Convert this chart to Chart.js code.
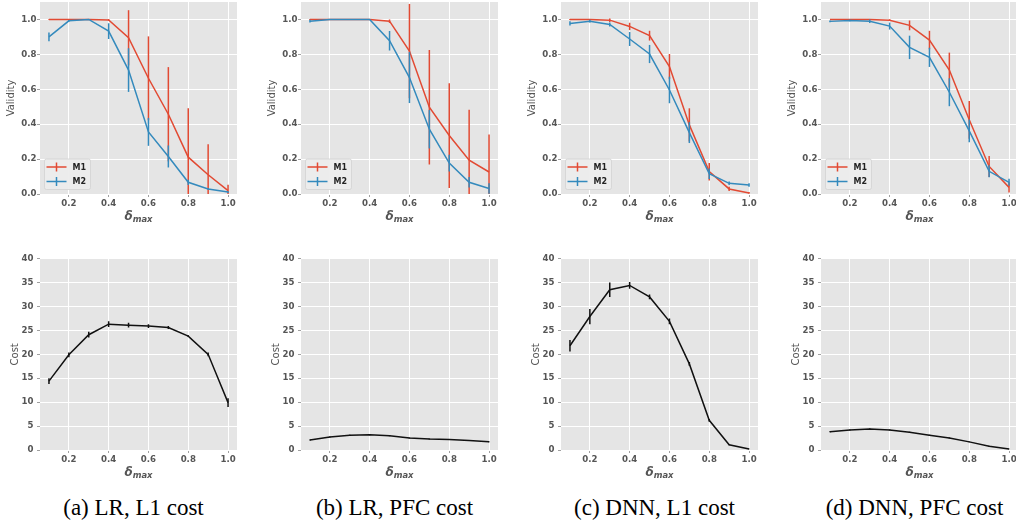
<!DOCTYPE html>
<html>
<head>
<meta charset="utf-8">
<script src="https://cdn.jsdelivr.net/npm/chart.js@4"></script>
<style>
  html, body { margin: 0; padding: 0; background: #fff; }
  body { position: relative; width: 1016px; height: 523px; overflow: hidden; }
  canvas { position: absolute; }
  .cap { position: absolute; width: 300px; text-align: center; font-family: "Liberation Serif", serif;
         font-size: 23px; line-height: 23px; color: #000; white-space: nowrap; }
</style>
</head>
<body>
<script>
// δ_max values shared by all panels
const deltaMax = [0.1, 0.2, 0.3, 0.4, 0.5, 0.6, 0.7, 0.8, 0.9, 1.0];
const deltaTicks = [0.2, 0.4, 0.6, 0.8, 1.0];
const validityTicks = [0.0, 0.2, 0.4, 0.6, 0.8, 1.0];
const costTicks = [0, 5, 10, 15, 20, 25, 30, 35, 40];
const methodNames = ['M1', 'M2'];
const captions = ['(a) LR, L1 cost', '(b) LR, PFC cost', '(c) DNN, L1 cost', '(d) DNN, PFC cost'];

// (a) LR, L1 cost
const lrL1ValidityM1    = [1.0, 1.0, 1.0, 0.997, 0.895, 0.663, 0.457, 0.211, 0.11, 0.019];
const lrL1ValidityM1Err = [0.002, 0.0, 0.0, 0.005, 0.158, 0.24, 0.27, 0.28, 0.175, 0.034];
const lrL1ValidityM2    = [0.9, 0.992, 1.0, 0.933, 0.71, 0.356, 0.215, 0.067, 0.029, 0.011];
const lrL1ValidityM2Err = [0.025, 0.005, 0.003, 0.045, 0.125, 0.08, 0.063, 0.015, 0.005, 0.005];
const lrL1Cost          = [14.4, 19.9, 24.1, 26.3, 26.1, 25.9, 25.6, 23.8, 20.0, 9.9];
const lrL1CostErr       = [0.6, 0.5, 0.6, 0.6, 0.5, 0.4, 0.3, 0.2, 0.4, 0.9];

// (b) LR, PFC cost
const lrPfcValidityM1    = [1.0, 1.0, 1.0, 1.0, 0.99, 0.819, 0.497, 0.335, 0.194, 0.126];
const lrPfcValidityM1Err = [0.003, 0.0, 0.0, 0.0, 0.01, 0.27, 0.328, 0.3, 0.288, 0.215];
const lrPfcValidityM2    = [0.99, 1.0, 1.0, 1.0, 0.878, 0.667, 0.371, 0.177, 0.067, 0.032];
const lrPfcValidityM2Err = [0.008, 0.0, 0.0, 0.0, 0.056, 0.146, 0.11, 0.048, 0.03, 0.03];
const lrPfcCost          = [2.1, 2.7, 3.1, 3.2, 3.0, 2.5, 2.3, 2.2, 2.0, 1.7];
const lrPfcCostErr       = [0.1, 0.1, 0.1, 0.1, 0.1, 0.1, 0.1, 0.1, 0.1, 0.1];

// (c) DNN, L1 cost
const dnnL1ValidityM1    = [1.0, 1.0, 0.996, 0.96, 0.907, 0.73, 0.396, 0.128, 0.029, 0.006];
const dnnL1ValidityM1Err = [0.003, 0.003, 0.01, 0.021, 0.028, 0.072, 0.095, 0.05, 0.012, 0.005];
const dnnL1ValidityM2    = [0.977, 0.99, 0.971, 0.888, 0.802, 0.596, 0.352, 0.116, 0.061, 0.051];
const dnnL1ValidityM2Err = [0.012, 0.008, 0.012, 0.04, 0.052, 0.076, 0.06, 0.03, 0.01, 0.01];
const dnnL1Cost          = [21.8, 27.9, 33.5, 34.4, 32.0, 26.9, 18.0, 6.2, 1.1, 0.2];
const dnnL1CostErr       = [1.2, 1.6, 1.5, 0.7, 0.5, 0.6, 0.4, 0.3, 0.1, 0.05];

// (d) DNN, PFC cost
const dnnPfcValidityM1    = [1.0, 1.0, 1.0, 0.996, 0.966, 0.882, 0.71, 0.425, 0.158, 0.038];
const dnnPfcValidityM1Err = [0.0, 0.0, 0.0, 0.005, 0.028, 0.053, 0.1, 0.108, 0.06, 0.03];
const dnnPfcValidityM2    = [0.989, 0.994, 0.99, 0.962, 0.84, 0.783, 0.583, 0.362, 0.13, 0.067];
const dnnPfcValidityM2Err = [0.005, 0.005, 0.01, 0.02, 0.067, 0.055, 0.08, 0.065, 0.034, 0.02];
const dnnPfcCost          = [3.8, 4.2, 4.4, 4.2, 3.7, 3.1, 2.5, 1.7, 0.8, 0.2];
const dnnPfcCostErr       = [0.1, 0.1, 0.1, 0.1, 0.1, 0.1, 0.1, 0.1, 0.1, 0.05];

// ---- styling ----
const RED = '#E24A33', BLUE = '#348ABD', BLACK = '#111111';
const TICK_FONT = { family: 'DejaVu Sans', size: 8.6, weight: 'bold' };
const TEXT_GRAY = '#555555';
const PLOT_W = 197, PLOT_H = 192, Y_AXIS_W = 40, X_AXIS_H = 34, PAD_TOP = 8, PAD_RIGHT = 6;
const COL_LEFT = [40, 301, 561, 821];
const ROW_TOP = [2, 258];

const toPoints = ys => ys.map((y, i) => ({ x: deltaMax[i], y }));

// gray panel, error bars, axis titles, legend
const ggPanel = {
  id: 'ggPanel',
  beforeDraw(chart) {
    const { ctx, chartArea: a } = chart;
    ctx.save();
    ctx.fillStyle = '#E5E5E5';
    ctx.fillRect(a.left, a.top, a.right - a.left, a.bottom - a.top);
    ctx.restore();
  },
  afterDatasetDraw(chart, args) {
    const ds = chart.data.datasets[args.index];
    if (!ds.errors) return;
    const { ctx, chartArea: a } = chart;
    const xs = chart.scales.x, ys = chart.scales.y;
    ctx.save();
    ctx.beginPath();
    ctx.rect(a.left, a.top, a.right - a.left, a.bottom - a.top);
    ctx.clip();
    ctx.strokeStyle = ds.borderColor;
    ctx.lineWidth = ds.borderWidth;
    ds.data.forEach((p, i) => {
      const e = ds.errors[i];
      if (!e) return;
      const px = xs.getPixelForValue(p.x);
      ctx.beginPath();
      ctx.moveTo(px, ys.getPixelForValue(p.y - e));
      ctx.lineTo(px, ys.getPixelForValue(p.y + e));
      ctx.stroke();
    });
    ctx.restore();
  },
  afterDraw(chart, args, opts) {
    const { ctx, chartArea: a } = chart;
    ctx.save();
    // x title: δ with subscript "max"
    const cx = (a.left + a.right) / 2;
    const base = a.bottom + 25.5;
    ctx.fillStyle = TEXT_GRAY;
    ctx.textBaseline = 'alphabetic';
    ctx.font = 'italic bold 12px "DejaVu Sans"';
    const wd = ctx.measureText('δ').width;
    ctx.font = 'italic bold 8.4px "DejaVu Sans"';
    const ws = ctx.measureText('max').width;
    const x0 = cx - (wd + ws) / 2;
    ctx.font = 'italic bold 12px "DejaVu Sans"';
    ctx.textAlign = 'left';
    ctx.fillText('δ', x0, base);
    ctx.font = 'italic bold 8.4px "DejaVu Sans"';
    ctx.fillText('max', x0 + wd, base + 2);
    // y title
    ctx.translate(a.left - opts.yTitleOffset, (a.top + a.bottom) / 2);
    ctx.rotate(-Math.PI / 2);
    ctx.font = '10px "DejaVu Sans"';
    ctx.textAlign = 'center';
    ctx.textBaseline = 'middle';
    ctx.fillText(opts.yTitle, 0, 0);
    ctx.setTransform(1, 0, 0, 1, 0, 0);
    // legend box in lower-left corner
    if (opts.legend) {
      const lx = a.left + 4.5, ly = a.bottom - 35, lw = 46, lh = 30.5;
      ctx.fillStyle = 'rgba(236,236,236,0.95)';
      ctx.strokeStyle = '#d2d2d2';
      ctx.lineWidth = 0.8;
      ctx.beginPath();
      ctx.roundRect(lx, ly, lw, lh, 2);
      ctx.fill();
      ctx.stroke();
      chart.data.datasets.forEach((ds, i) => {
        const ry = ly + 8 + i * 14.4;
        ctx.strokeStyle = ds.borderColor;
        ctx.lineWidth = 1.5;
        ctx.beginPath();
        ctx.moveTo(lx + 2, ry); ctx.lineTo(lx + 22, ry);
        ctx.moveTo(lx + 12, ry - 4.5); ctx.lineTo(lx + 12, ry + 4.5);
        ctx.stroke();
        ctx.fillStyle = '#222';
        ctx.font = 'bold 8px "DejaVu Sans"';
        ctx.textAlign = 'left';
        ctx.textBaseline = 'middle';
        ctx.fillText(ds.label, lx + 28, ry + 0.5);
      });
    }
    ctx.restore();
  }
};

function lineDataset(label, values, errors, color, order) {
  return {
    label, data: toPoints(values), errors,
    borderColor: color, backgroundColor: color, borderWidth: 1.5,
    pointRadius: 0, tension: 0, fill: false, order
  };
}

function makeChart(col, row, datasets, yMax, yTicks, yTitle, yFmt, yTitleOffset, yPad, legend) {
  const c = document.createElement('canvas');
  const w = Y_AXIS_W + PLOT_W + PAD_RIGHT, h = PAD_TOP + PLOT_H + X_AXIS_H;
  c.width = w; c.height = h;
  c.style.width = w + 'px'; c.style.height = h + 'px';
  c.style.left = (COL_LEFT[col] - Y_AXIS_W) + 'px';
  c.style.top = (ROW_TOP[row] - PAD_TOP) + 'px';
  document.body.appendChild(c);
  new Chart(c, {
    type: 'line',
    data: { datasets },
    options: {
      responsive: false, animation: false, devicePixelRatio: 1,
      layout: { padding: { top: PAD_TOP, right: PAD_RIGHT, left: 0, bottom: 0 } },
      plugins: { legend: { display: false }, tooltip: { enabled: false },
                 ggPanel: { yTitle, yTitleOffset, legend } },
      scales: {
        x: {
          type: 'linear', min: 0.055, max: 1.045,
          afterBuildTicks: s => { s.ticks = deltaTicks.map(v => ({ value: v })); },
          afterFit: s => { s.height = X_AXIS_H; },
          ticks: { font: TICK_FONT, color: TEXT_GRAY, padding: 2, autoSkip: false, maxRotation: 0,
                   callback: v => Number(v).toFixed(1) },
          grid: { color: '#ffffff', lineWidth: 1, drawTicks: true, tickLength: 3, tickColor: '#888', tickWidth: 0.8 },
          border: { display: false }
        },
        y: {
          type: 'linear', min: 0, max: yMax,
          afterBuildTicks: s => { s.ticks = yTicks.map(v => ({ value: v })); },
          afterFit: s => { s.width = Y_AXIS_W; },
          ticks: { font: TICK_FONT, color: TEXT_GRAY, padding: yPad, autoSkip: false, callback: yFmt },
          grid: { color: '#ffffff', lineWidth: 1, drawTicks: true, tickLength: 3, tickColor: '#888', tickWidth: 0.8 },
          border: { display: false }
        }
      }
    },
    plugins: [ggPanel]
  });
}

const validityPanels = [
  [lrL1ValidityM1, lrL1ValidityM1Err, lrL1ValidityM2, lrL1ValidityM2Err],
  [lrPfcValidityM1, lrPfcValidityM1Err, lrPfcValidityM2, lrPfcValidityM2Err],
  [dnnL1ValidityM1, dnnL1ValidityM1Err, dnnL1ValidityM2, dnnL1ValidityM2Err],
  [dnnPfcValidityM1, dnnPfcValidityM1Err, dnnPfcValidityM2, dnnPfcValidityM2Err]
];
const costPanels = [
  [lrL1Cost, lrL1CostErr], [lrPfcCost, lrPfcCostErr], [dnnL1Cost, dnnL1CostErr], [dnnPfcCost, dnnPfcCostErr]
];

validityPanels.forEach(([m1, e1, m2, e2], col) => {
  makeChart(col, 0, [
    lineDataset(methodNames[0], m1, e1, RED, 1),
    lineDataset(methodNames[1], m2, e2, BLUE, 0)
  ], 1.1, validityTicks, 'Validity', v => Number(v).toFixed(1), 28.5, 0.5, true);
});
costPanels.forEach(([cost, err], col) => {
  makeChart(col, 1, [lineDataset('Cost', cost, err, BLACK, 0)],
    40, costTicks, 'Cost', v => String(Math.round(v)), 25, 3.5, false);
});

// sub-figure captions
captions.forEach((text, col) => {
  const d = document.createElement('div');
  d.className = 'cap';
  d.textContent = text;
  d.style.left = (COL_LEFT[col] + PLOT_W / 2 - 5 - 150) + 'px';
  d.style.top = '495.5px';
  document.body.appendChild(d);
});
</script>
</body>
</html>
